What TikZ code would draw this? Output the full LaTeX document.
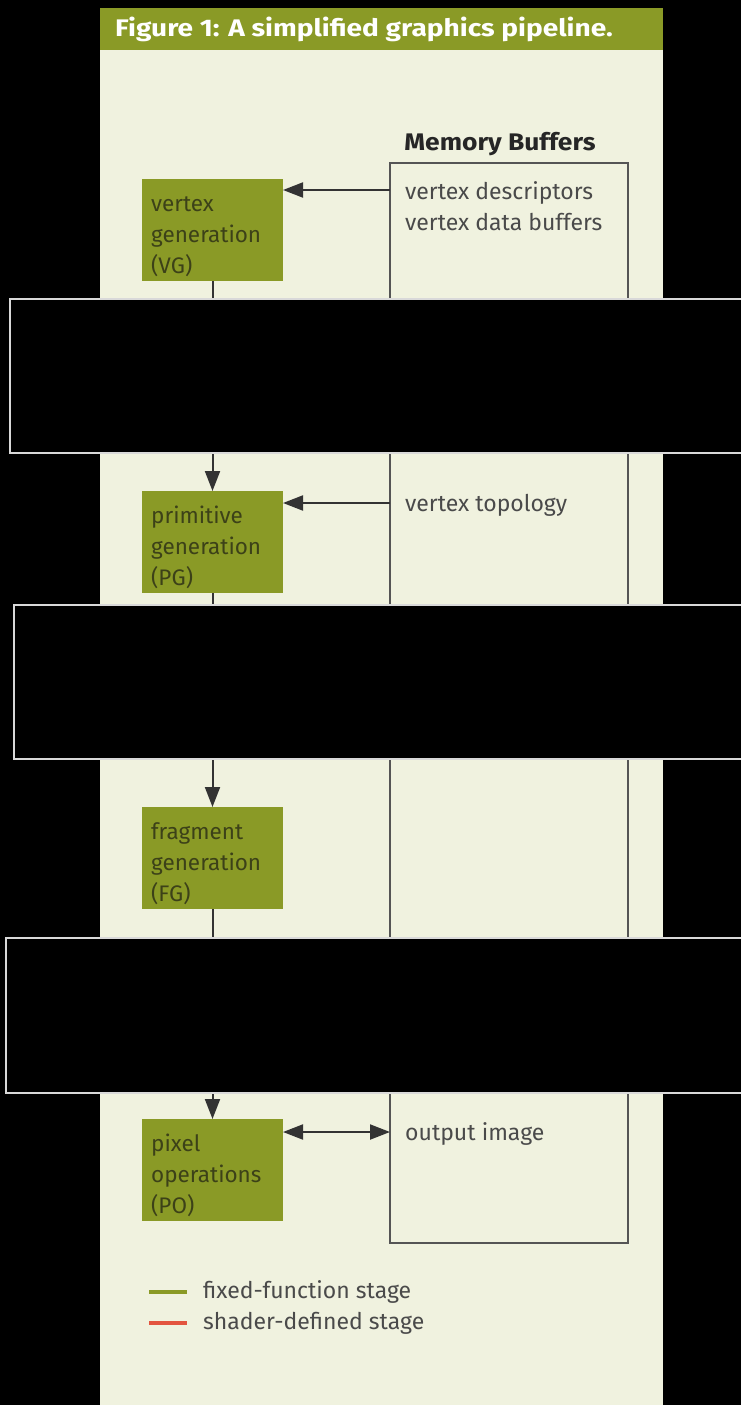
\documentclass[tikz,border=0pt]{standalone}
\usepackage{fontspec}
\setmainfont{Fira Sans}
\usetikzlibrary{arrows.meta,calc}

\definecolor{panelbg}{HTML}{F0F2DF}
\definecolor{olive}{HTML}{8A9A26}
\definecolor{stagetext}{HTML}{3C4118}
\definecolor{bodytext}{HTML}{4A4A4A}
\definecolor{wire}{HTML}{333333}
\definecolor{memline}{HTML}{555555}
\definecolor{shaderred}{HTML}{E3553F}

\tikzset{
  stage/.style={fill=olive, draw=none, inner sep=0pt, outer sep=0pt,
                minimum width=141pt, minimum height=102pt, anchor=north west},
  stagelabel/.style={anchor=base west, inner sep=0pt, text=stagetext,
                     font=\fontsize{22.5}{31}\selectfont},
  membox/.style={draw=memline, line width=2.5pt, fill=none, inner sep=0pt,
                 outer sep=0pt, anchor=north west},
  memtext/.style={anchor=base west, inner sep=0pt, text=bodytext,
                  font=\fontsize{23}{26}\selectfont},
  arr/.style={draw=wire, line width=2pt, -{Triangle[length=20pt,width=15pt]}},
  biarr/.style={draw=wire, line width=2pt,
                {Triangle[length=20pt,width=15pt]}-{Triangle[length=20pt,width=15pt]}},
  legendline/.style={line width=4pt},
  legendtext/.style={anchor=base west, inner sep=0pt, text=bodytext,
                     font=\fontsize{23}{26}\selectfont},
  redact/.style={fill=black, draw=white!85!black, line width=1.5pt},
}

\newcommand{\stagelines}[3]{\parbox[t]{6cm}{\baselineskip=31pt #1\\#2\\#3}}

\begin{document}
\begin{tikzpicture}[x=1pt,y=-1pt]
  \useasboundingbox (0,0) rectangle (741,1405);
  \fill[black] (0,0) rectangle (741,1405);

  % panel and title bar
  \fill[panelbg] (100,8) rectangle (663,1405);
  \fill[olive] (100,8) rectangle (663,50);
  \node[anchor=base west, inner sep=0pt, text=white,
        font=\fontsize{24}{28}\selectfont\bfseries] (title) at (115,37)
        {\scalebox{1.17}[1]{Figure 1: A simplified graphics pipeline.}};

  % memory buffers column
  \node[anchor=base, inner sep=0pt, text=black!85,
        font=\fontsize{24}{28}\selectfont\bfseries] (memtitle) at (500,150)
        {\scalebox{1.1}[1]{Memory Buffers}};
  \node[membox, minimum width=238pt, minimum height=1080pt] (mem) at (390,163) {};

  % pipeline stages
  \node[stage] (vg) at (142,179) {};
  \node[stage] (pg) at (142,491) {};
  \node[stage] (fg) at (142,807) {};
  \node[stage] (po) at (142,1119) {};

  \node[stagelabel] (vgl) at ($(vg.north west)+(9,32)$) {\stagelines{vertex}{generation}{(VG)}};
  \node[stagelabel] (pgl) at ($(pg.north west)+(9,32)$) {\stagelines{primitive}{generation}{(PG)}};
  \node[stagelabel] (fgl) at ($(fg.north west)+(9,32)$) {\stagelines{fragment}{generation}{(FG)}};
  \node[stagelabel] (pol) at ($(po.north west)+(9,32)$) {\stagelines{pixel}{operations}{(PO)}};

  % flow between stages
  \draw[arr] (vg.south) -- (pg.north);
  \draw[arr] (pg.south) -- (fg.north);
  \draw[arr] (fg.south) -- (po.north);

  % buffer taps on the memory column
  \coordinate (tapvg) at ($(vg.north east -| mem.west)+(0,11)$);
  \coordinate (tappg) at ($(pg.north east -| mem.west)+(0,12)$);
  \coordinate (tappo) at ($(po.north east -| mem.west)+(0,13)$);

  \draw[arr] (tapvg) -- (tapvg -| vg.east);
  \draw[arr] (tappg) -- (tappg -| pg.east);
  \draw[biarr] (tappo -| po.east) -- (tappo);

  \node[memtext] (vdesc) at ($(tapvg)+(15,9)$) {vertex descriptors};
  \node[memtext] (vdata) at ($(tapvg)+(15,40)$) {vertex data buffers};
  \node[memtext] (vtopo) at ($(tappg)+(15,8)$) {vertex topology};
  \node[memtext] (outimg) at ($(tappo)+(15,8)$) {output image};

  % legend
  \coordinate (lg1) at (149,1292);
  \coordinate (lg2) at (149,1323);
  \draw[legendline, olive] (lg1) -- ++(38,0);
  \draw[legendline, shaderred] (lg2) -- ++(38,0);
  \node[legendtext] (lgt1) at ($(lg1)+(54,6)$) {fixed-function stage};
  \node[legendtext] (lgt2) at ($(lg2)+(54,6)$) {shader-defined stage};

  % masked bands
  \draw[redact] (10,299) rectangle (760,453);
  \draw[redact] (14,605) rectangle (760,759);
  \draw[redact] (6,938) rectangle (760,1093);
\end{tikzpicture}
\end{document}
